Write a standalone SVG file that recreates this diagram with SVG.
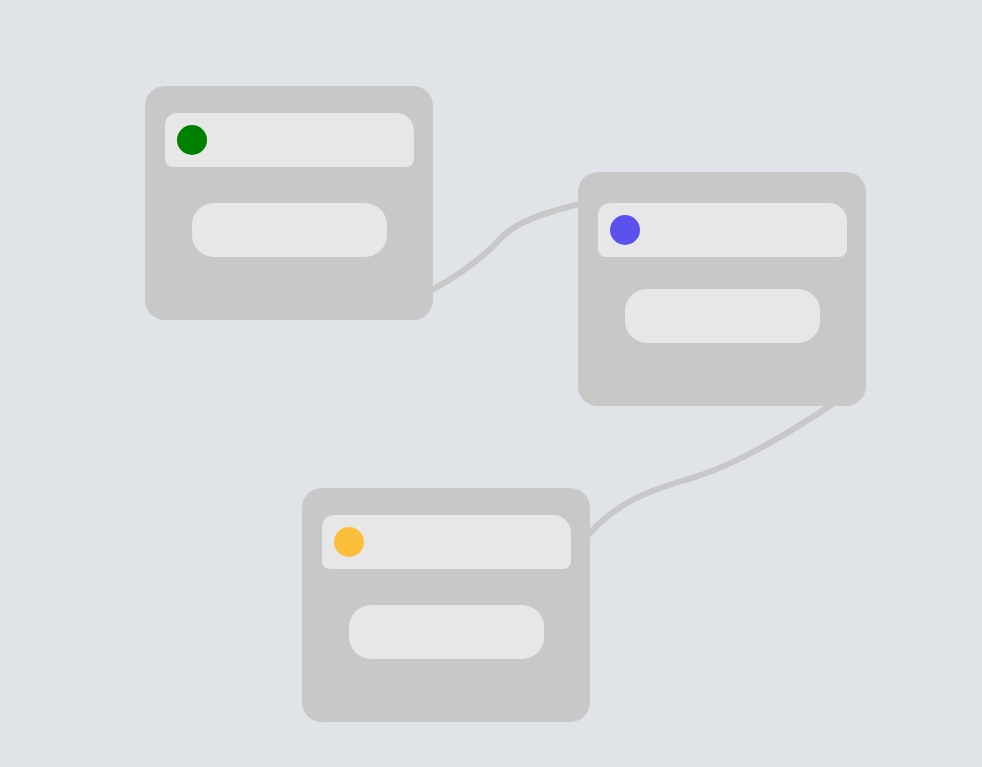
<svg xmlns="http://www.w3.org/2000/svg" width="982" height="767" viewBox="0 0 982 767">
<style>
.node{fill:#c8c8c8}
.inner{fill:#e7e7e7}
.edge{fill:none;stroke:#c8c8c8;stroke-width:6;stroke-linecap:butt}
</style>
<rect width="982" height="767" fill="#e0e3e8"/>
<g id="connectors">
<path class="edge" d="M420,296 C455,279 485,256 500,239 C515,222 545,212 595,200"/>
<path class="edge" d="M840,399 C790,433 730,468 685,480 C645,492 610,505 580,545"/>
</g>
<g id="node1">
<rect class="node" x="145" y="86" width="288" height="234" rx="20"/>
<path class="inner" d="M177,113 H396 A18,18 0 0 1 414,131 V159 A8,8 0 0 1 406,167 H173 A8,8 0 0 1 165,159 V125 A12,12 0 0 1 177,113 Z"/>
<circle cx="192" cy="140" r="15" fill="#008000"/>
<rect class="inner" x="192" y="203" width="195" height="54" rx="22"/>
</g>
<g id="node2">
<rect class="node" x="578" y="172" width="288" height="234" rx="20"/>
<path class="inner" d="M610,203 H829 A18,18 0 0 1 847,221 V249 A8,8 0 0 1 839,257 H606 A8,8 0 0 1 598,249 V215 A12,12 0 0 1 610,203 Z"/>
<circle cx="625" cy="230" r="15" fill="#5b52ee"/>
<rect class="inner" x="625" y="289" width="195" height="54" rx="22"/>
</g>
<g id="node3">
<rect class="node" x="302" y="488" width="288" height="234" rx="20"/>
<path class="inner" d="M334,515 H553 A18,18 0 0 1 571,533 V561 A8,8 0 0 1 563,569 H330 A8,8 0 0 1 322,561 V527 A12,12 0 0 1 334,515 Z"/>
<circle cx="349" cy="542" r="15" fill="#fbbf3c"/>
<rect class="inner" x="349" y="605" width="195" height="54" rx="22"/>
</g>
</svg>
